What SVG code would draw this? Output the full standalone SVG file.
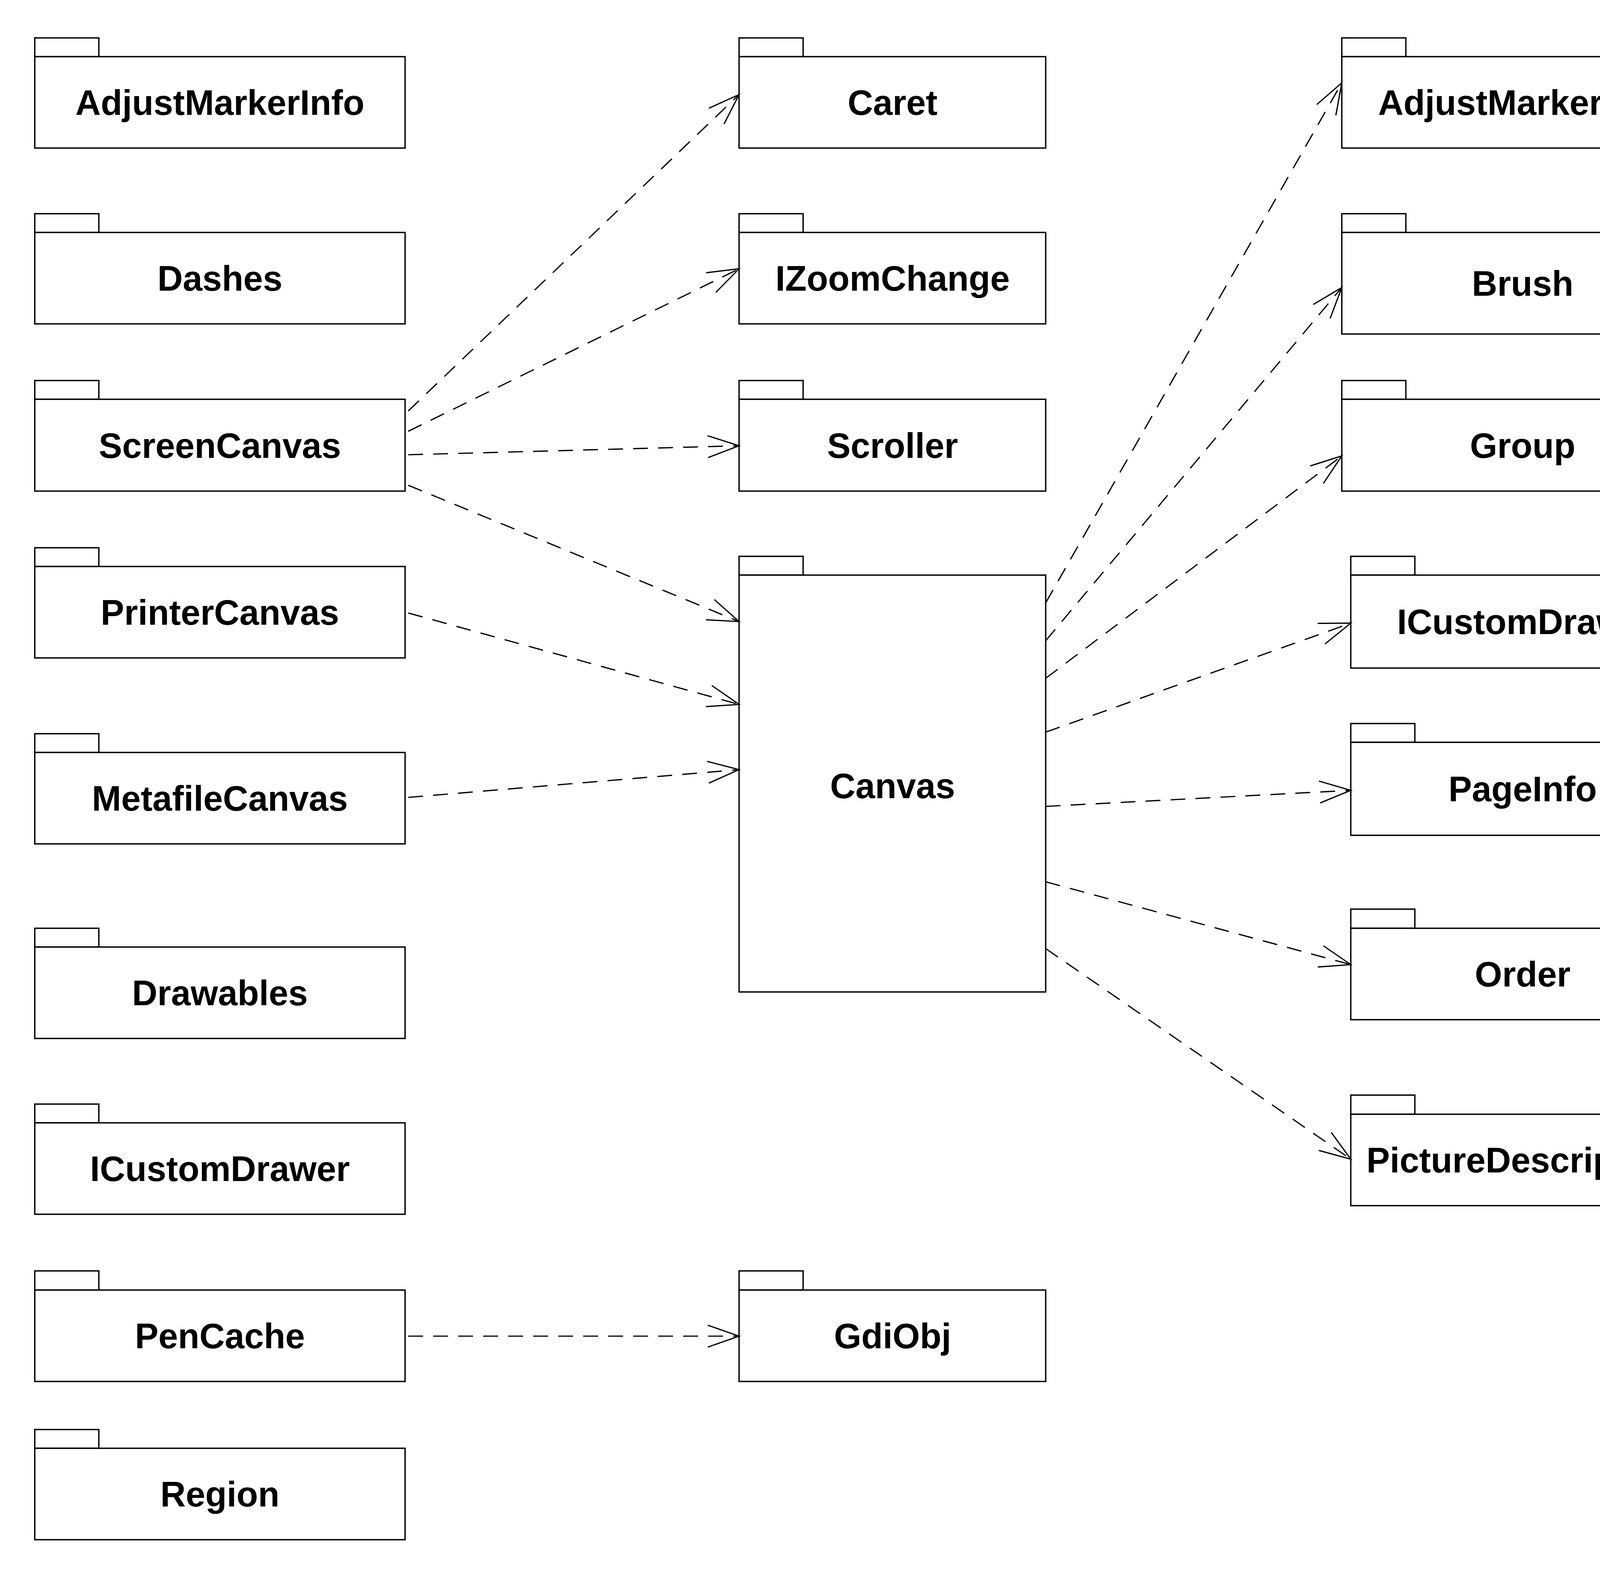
<svg xmlns="http://www.w3.org/2000/svg" width="5800" height="4016" viewBox="0 0 5800 4016">
<style>
.b{fill:#fff;stroke:#000;stroke-width:3.5}
.t{font-family:"Liberation Sans",Arial,sans-serif;font-weight:bold;font-size:90px;text-anchor:middle}
.e{fill:none;stroke:#000;stroke-width:3.2;stroke-dasharray:38 26}
</style>
<defs>
<marker id="a" markerUnits="userSpaceOnUse" markerWidth="100" markerHeight="80" refX="84" refY="30" orient="auto" viewBox="0 0 100 60">
<path d="M4,2 L84,30 L4,58" fill="none" stroke="#000" stroke-width="3.2"/>
</marker>
</defs>
<rect width="5800" height="4016" fill="#fff"/>
<g id="n1"><rect class="b" x="89" y="97" width="164" height="48"/><rect class="b" x="89" y="145" width="948" height="234"/><text class="t" x="563" y="294">AdjustMarkerInfo</text></g>
<g id="n2"><rect class="b" x="89" y="547" width="164" height="48"/><rect class="b" x="89" y="595" width="948" height="234"/><text class="t" x="563" y="744">Dashes</text></g>
<g id="n3"><rect class="b" x="89" y="974" width="164" height="48"/><rect class="b" x="89" y="1022" width="948" height="235"/><text class="t" x="563" y="1172">ScreenCanvas</text></g>
<g id="n4"><rect class="b" x="89" y="1402" width="164" height="48"/><rect class="b" x="89" y="1450" width="948" height="234"/><text class="t" x="563" y="1599">PrinterCanvas</text></g>
<g id="n5"><rect class="b" x="89" y="1878" width="164" height="48"/><rect class="b" x="89" y="1926" width="948" height="234"/><text class="t" x="563" y="2075">MetafileCanvas</text></g>
<g id="n6"><rect class="b" x="89" y="2376" width="164" height="48"/><rect class="b" x="89" y="2424" width="948" height="234"/><text class="t" x="563" y="2573">Drawables</text></g>
<g id="n7"><rect class="b" x="89" y="2826" width="164" height="48"/><rect class="b" x="89" y="2874" width="948" height="234"/><text class="t" x="563" y="3023">ICustomDrawer</text></g>
<g id="n8"><rect class="b" x="89" y="3253" width="164" height="49"/><rect class="b" x="89" y="3302" width="948" height="234"/><text class="t" x="563" y="3451">PenCache</text></g>
<g id="n9"><rect class="b" x="89" y="3659" width="164" height="48"/><rect class="b" x="89" y="3707" width="948" height="234"/><text class="t" x="563" y="3856">Region</text></g>
<g id="n10"><rect class="b" x="1892" y="97" width="164" height="48"/><rect class="b" x="1892" y="145" width="785" height="234"/><text class="t" x="2285" y="294">Caret</text></g>
<g id="n11"><rect class="b" x="1892" y="547" width="164" height="48"/><rect class="b" x="1892" y="595" width="785" height="234"/><text class="t" x="2285" y="744">IZoomChange</text></g>
<g id="n12"><rect class="b" x="1892" y="974" width="164" height="48"/><rect class="b" x="1892" y="1022" width="785" height="235"/><text class="t" x="2285" y="1172">Scroller</text></g>
<g id="n13"><rect class="b" x="1892" y="1424" width="164" height="48"/><rect class="b" x="1892" y="1472" width="785" height="1067"/><text class="t" x="2285" y="2043">Canvas</text></g>
<g id="n14"><rect class="b" x="1892" y="3253" width="164" height="49"/><rect class="b" x="1892" y="3302" width="785" height="234"/><text class="t" x="2285" y="3451">GdiObj</text></g>
<g id="n15"><rect class="b" x="3435" y="97" width="164" height="48"/><rect class="b" x="3435" y="145" width="926" height="234"/><text class="t" x="3898" y="294">AdjustMarkerInfo</text></g>
<g id="n16"><rect class="b" x="3435" y="547" width="164" height="48"/><rect class="b" x="3435" y="595" width="926" height="260"/><text class="t" x="3898" y="757">Brush</text></g>
<g id="n17"><rect class="b" x="3435" y="974" width="164" height="48"/><rect class="b" x="3435" y="1022" width="926" height="235"/><text class="t" x="3898" y="1172">Group</text></g>
<g id="n18"><rect class="b" x="3458" y="1424" width="164" height="48"/><rect class="b" x="3458" y="1472" width="903" height="238"/><text class="t" x="3909" y="1623">ICustomDrawer</text></g>
<g id="n19"><rect class="b" x="3458" y="1852" width="164" height="48"/><rect class="b" x="3458" y="1900" width="881" height="238"/><text class="t" x="3898" y="2051">PageInfo</text></g>
<g id="n20"><rect class="b" x="3458" y="2327" width="164" height="49"/><rect class="b" x="3458" y="2376" width="881" height="234"/><text class="t" x="3898" y="2525">Order</text></g>
<g id="n21"><rect class="b" x="3458" y="2803" width="164" height="49"/><rect class="b" x="3458" y="2852" width="881" height="234"/><text class="t" x="3898" y="3001">PictureDescription</text></g>
<g id="n22"><rect class="b" x="4978" y="974" width="164" height="48"/><rect class="b" x="4978" y="1022" width="763" height="235"/><text class="t" x="5360" y="1172">IElementImp</text></g>
<g id="n23"><rect class="b" x="4956" y="1852" width="164" height="48"/><rect class="b" x="4956" y="1900" width="785" height="238"/><text class="t" x="5348" y="2051">PageDefaults</text></g>
<g id="edges" marker-end="url(#a)">
<line class="e" x1="1045" y1="1052" x2="1892" y2="242" marker-end="url(#a)"/>
<line class="e" x1="1045" y1="1104" x2="1892" y2="688" marker-end="url(#a)"/>
<line class="e" x1="1045" y1="1164" x2="1892" y2="1141" marker-end="url(#a)"/>
<line class="e" x1="1045" y1="1242" x2="1892" y2="1591" marker-end="url(#a)"/>
<line class="e" x1="1045" y1="1569" x2="1892" y2="1803" marker-end="url(#a)"/>
<line class="e" x1="1045" y1="2041" x2="1892" y2="1970" marker-end="url(#a)"/>
<line class="e" x1="1045" y1="3420" x2="1892" y2="3420" marker-end="url(#a)"/>
<line class="e" x1="2677" y1="1543" x2="3435" y2="212" marker-end="url(#a)"/>
<line class="e" x1="2677" y1="1640" x2="3435" y2="736" marker-end="url(#a)"/>
<line class="e" x1="2677" y1="1736" x2="3435" y2="1167" marker-end="url(#a)"/>
<line class="e" x1="2677" y1="1874" x2="3458" y2="1595" marker-end="url(#a)"/>
<line class="e" x1="2677" y1="2064" x2="3458" y2="2023" marker-end="url(#a)"/>
<line class="e" x1="2677" y1="2257" x2="3458" y2="2469" marker-end="url(#a)"/>
<line class="e" x1="2677" y1="2428" x2="3458" y2="2967" marker-end="url(#a)"/>
<line class="e" x1="4361" y1="1141" x2="4978" y2="1141" marker-end="url(#a)"/>
<line class="e" x1="4339" y1="2019" x2="4956" y2="2019" marker-end="url(#a)"/>
</g>
</svg>
